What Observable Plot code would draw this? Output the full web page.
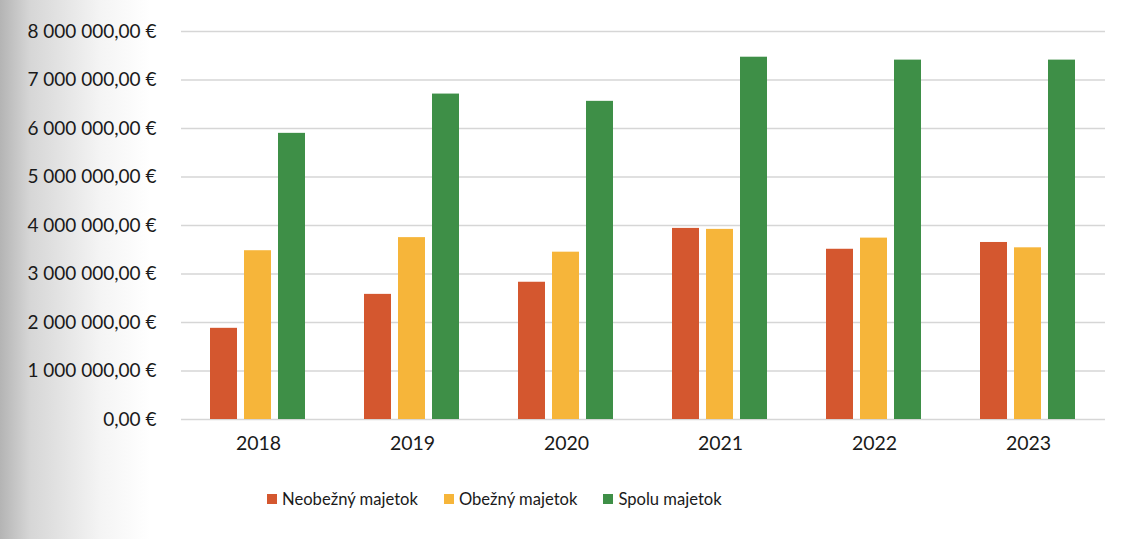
<!DOCTYPE html>
<html>
<head>
<meta charset="utf-8">
<script src="https://cdn.jsdelivr.net/npm/d3@7"></script>
<script src="https://cdn.jsdelivr.net/npm/@observablehq/plot@0.6"></script>
<style>
  html, body { margin: 0; padding: 0; }
  body {
    width: 1136px; height: 539px; overflow: hidden; position: relative;
    background: linear-gradient(to right, #b4b4b4 0px, #d6d6d6 30px, #f4f4f4 100px, #ffffff 150px);
    font-family: Lato, "Open Sans", sans-serif;
  }
  #chart { position: absolute; left: 0; top: 0; }
  #legend {
    position: absolute; left: 267px; top: 489px;
    display: flex; align-items: center; font-size: 16.6px; color: #1a1a1a;
  }
  .item { display: flex; align-items: center; margin-right: 26px; }
  .sw { width: 10px; height: 10px; margin-right: 5px; }
</style>
</head>
<body>
<div id="chart"></div>
<div id="legend"></div>
<script>
const years = ["2018", "2019", "2020", "2021", "2022", "2023"];
const seriesNames = ["Neobežný majetok", "Obežný majetok", "Spolu majetok"];
const seriesColors = ["#d4572f", "#f6b53a", "#3e8f47"];
const neobezny = [1880000, 2580000, 2830000, 3940000, 3510000, 3650000];
const obezny   = [3480000, 3750000, 3450000, 3920000, 3740000, 3540000];
const spolu    = [5900000, 6710000, 6560000, 7470000, 7410000, 7410000];
const yTicks = [0, 1000000, 2000000, 3000000, 4000000, 5000000, 6000000, 7000000, 8000000];

const seriesValues = [neobezny, obezny, spolu];
const data = [];
years.forEach((yr, i) => {
  seriesNames.forEach((s, j) => data.push({year: yr, series: s, value: seriesValues[j][i]}));
});

const loc = d3.formatLocale({decimal: ",", thousands: "\u00a0", grouping: [3], currency: ["", ""]});
const fmt = loc.format(",.2f");

const chart = Plot.plot({
  width: 1136,
  height: 470,
  marginLeft: 180,
  marginRight: 30,
  marginTop: 31,
  marginBottom: 51,
  style: {fontFamily: "Lato, 'Open Sans', sans-serif", background: "transparent", color: "#1a1a1a"},
  fx: {domain: years, paddingInner: 0, paddingOuter: 0, label: null},
  x: {domain: seriesNames, paddingInner: 0.2, paddingOuter: 0.83, axis: null},
  y: {domain: [0, 8000000], label: null},
  color: {domain: seriesNames, range: seriesColors},
  marks: [
    Plot.gridY(yTicks, {stroke: "#d6d6d6", strokeOpacity: 1, strokeWidth: 1.3}),
    Plot.axisY(yTicks, {tickSize: 0, tickPadding: 25, tickFormat: d => fmt(d) + " €", fontSize: 19, label: null}),
    Plot.axisFx({anchor: "bottom", tickSize: 0, tickPadding: 17, fontSize: 19.5, label: null}),
    Plot.barY(data, {fx: "year", x: "series", y: "value", fill: "series"})
  ]
});
document.getElementById("chart").appendChild(chart);

const legend = document.getElementById("legend");
seriesNames.forEach((s, i) => {
  const it = document.createElement("div");
  it.className = "item";
  const sw = document.createElement("span");
  sw.className = "sw";
  sw.style.background = seriesColors[i];
  const tx = document.createElement("span");
  tx.textContent = s;
  it.appendChild(sw); it.appendChild(tx);
  legend.appendChild(it);
});
</script>
</body>
</html>
